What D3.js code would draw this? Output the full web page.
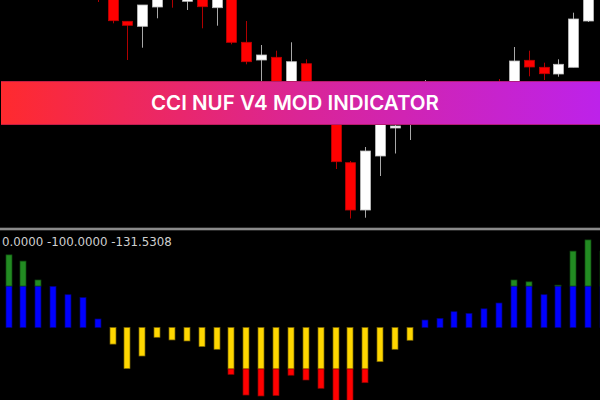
<!DOCTYPE html>
<html><head><meta charset="utf-8">
<script src="https://cdn.jsdelivr.net/npm/d3@7"></script>
<style>html,body{margin:0;padding:0;background:#000;}svg{display:block;}</style>
</head><body>
<script>
// ---- Candle data (index into bar positions, OHLC prices) ----
const candleIndex = [6,7,8,9,10,11,12,13,14,15,16,17,18,19,20,21,22,23,24,25,26,27,28,29,30,31,32,33,34,35,36,37,38,39];
const candleOpen  = [1.1040,1.1012,1.09787,1.09737,1.0993,1.1025,1.09987,1.1008,1.09923,1.1006,1.09577,1.0940,1.09427,1.0910,1.09363,1.0908,1.0888,1.08373,1.0790,1.0844,1.0872,1.0878,1.0882,1.0900,1.0888,1.0905,1.0892,1.0912,1.0905,1.09397,1.09327,1.0926,1.09327,1.0979];
const candleHigh  = [1.1050,1.1018,1.09787,1.0995,1.1012,1.1030,1.1008,1.1012,1.1010,1.1010,1.0979,1.0955,1.09493,1.09577,1.09407,1.0912,1.0895,1.0839,1.0853,1.0888,1.0882,1.0900,1.0920,1.0910,1.0915,1.0914,1.0916,1.0921,1.0953,1.09493,1.09373,1.09407,1.09873,1.1010];
const candleLow   = [1.0998,1.09767,1.0940,1.09523,1.09817,1.09923,1.0990,1.09717,1.09743,1.09557,1.09357,1.0916,1.0904,1.0906,1.0896,1.0878,1.0831,1.07815,1.07823,1.0824,1.08465,1.0860,1.0878,1.0882,1.0882,1.0888,1.0885,1.0892,1.0900,1.09237,1.0920,1.09233,1.09327,1.0978];
const candleClose = [1.1010,1.09793,1.09747,1.0995,1.1008,1.1006,1.1004,1.09933,1.1006,1.09577,1.09383,1.0945,1.0908,1.09383,1.0902,1.0882,1.08383,1.0790,1.0849,1.0882,1.0874,1.0892,1.0905,1.0890,1.0908,1.0895,1.0910,1.0900,1.0939,1.0933,1.09263,1.09357,1.0981,1.1005];

// ---- Indicator (CCI histogram) data, one value per bar 0..40 ----
const cciValues = [175,160,114.5,99,79,72,20.5,-40,-99,-68.7,-23.6,-30,-32.5,-46,-52.5,-113,-162.7,-165,-164,-115,-126.5,-146.5,-185,-185,-133,-82.4,-52.5,-30.8,18,22,38,34,45,59,114.5,110,79,102,184,211,184];
const levelValues = [100, -100];
const legendValues = ["0.0000", "-100.0000", "-131.5308"];
const titleText = "CCI NUF V4 MOD INDICATOR";

const W = 600, H = 400;
const svg = d3.select("body").append("svg").attr("width", W).attr("height", H);
svg.append("rect").attr("width", W).attr("height", H).attr("fill", "#000");

const x = d3.scaleLinear().domain([0, 39]).range([8.5, 588.2]);
const yPrice = d3.scaleLinear().domain([1.1000, 1.0775]).range([0, 225]);
const yCci = d3.scaleLinear().domain([0, 100]).range([327.5, 286]);

const defs = svg.append("defs");
defs.append("clipPath").attr("id", "priceClip").append("rect").attr("x", 0).attr("y", 0).attr("width", W).attr("height", 227);
defs.append("clipPath").attr("id", "cciClip").append("rect").attr("x", 0).attr("y", 231).attr("width", W).attr("height", H - 231);
const grad = defs.append("linearGradient").attr("id", "bannerGrad").attr("x1", "0%").attr("x2", "100%").attr("y1", "0%").attr("y2", "0%");
grad.append("stop").attr("offset", "0%").attr("stop-color", "#ff2a2e");
grad.append("stop").attr("offset", "50%").attr("stop-color", "#da2596");
grad.append("stop").attr("offset", "100%").attr("stop-color", "#bd22ea");

// ---- Candles ----
const candles = candleIndex.map((idx, k) => ({
  i: idx, o: candleOpen[k], h: candleHigh[k], l: candleLow[k], c: candleClose[k]
}));
const gPrice = svg.append("g").attr("clip-path", "url(#priceClip)");
const cg = gPrice.selectAll("g.candle").data(candles).join("g").attr("class", "candle");
cg.append("line")
  .attr("x1", d => Math.round(x(d.i)) + 0.5).attr("x2", d => Math.round(x(d.i)) + 0.5)
  .attr("y1", d => yPrice(d.h)).attr("y2", d => yPrice(d.l))
  .attr("stroke", d => d.c >= d.o ? "#a8a8a8" : "#b00000").attr("stroke-width", 1);
cg.append("rect")
  .attr("x", d => Math.round(x(d.i)) - 4.5)
  .attr("width", 10)
  .attr("y", d => yPrice(Math.max(d.o, d.c)))
  .attr("height", d => Math.max(1.5, Math.abs(yPrice(d.o) - yPrice(d.c))))
  .attr("fill", d => d.c >= d.o ? "#ffffff" : "#ff0000")
  .attr("stroke", d => d.c >= d.o ? "#bdbdbd" : "#c00000")
  .attr("stroke-width", 0.8);

// ---- Separator ----
svg.append("rect").attr("x", 0).attr("y", 227.7).attr("width", W).attr("height", 2.6).attr("fill", "#8a8a8a");

// ---- Indicator histogram ----
const gCci = svg.append("g").attr("clip-path", "url(#cciClip)");
const segs = [];
cciValues.forEach((v, i) => {
  if (v >= 0) {
    segs.push({i, a: 0, b: Math.min(v, levelValues[0]), col: "#0000ff", edge: "#00007a"});
    if (v > levelValues[0]) segs.push({i, a: levelValues[0], b: v, col: "#228b22", edge: "#0f4a0f"});
  } else {
    segs.push({i, a: 0, b: Math.max(v, levelValues[1]), col: "#ffd700", edge: "#7a6400"});
    if (v < levelValues[1]) segs.push({i, a: levelValues[1], b: v, col: "#ff0000", edge: "#8a0000"});
  }
});
gCci.selectAll("rect.seg").data(segs).join("rect").attr("class", "seg")
  .attr("x", d => Math.round(x(d.i)) - 3)
  .attr("width", 6)
  .attr("y", d => Math.min(yCci(d.a), yCci(d.b)))
  .attr("height", d => Math.abs(yCci(d.a) - yCci(d.b)))
  .attr("fill", d => d.col)
  .attr("stroke", d => d.edge).attr("stroke-width", 0.7);

// ---- Legend text ----
svg.append("text")
  .attr("x", 2).attr("y", 246)
  .attr("font-family", "DejaVu Sans, sans-serif").attr("font-size", 11.8)
  .attr("fill", "#d0d0d0")
  .text(legendValues.join(" "));

// ---- Banner ----
svg.append("rect").attr("x", 1).attr("y", 81).attr("width", 599).attr("height", 44)
  .attr("fill", "url(#bannerGrad)");
svg.append("rect").attr("x", 1).attr("y", 81).attr("width", 599).attr("height", 1).attr("fill", "#a0184a").attr("opacity", 0.6);
svg.append("rect").attr("x", 1).attr("y", 124).attr("width", 599).attr("height", 1).attr("fill", "#a0184a").attr("opacity", 0.6);
svg.append("text")
  .attr("x", 151).attr("y", 109.5)
  .attr("font-family", "Inter, 'Open Sans', sans-serif").attr("font-weight", 600)
  .attr("font-size", 20.5).attr("fill", "#ffffff")
  .attr("textLength", 288).attr("lengthAdjust", "spacingAndGlyphs")
  .text(titleText);
</script>
</body></html>
